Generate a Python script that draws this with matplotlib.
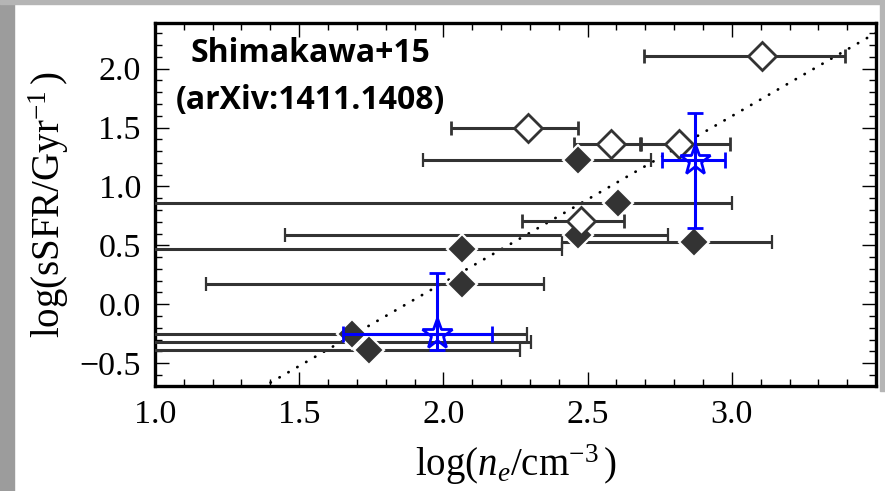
import numpy as np
import matplotlib
matplotlib.use('Agg')
import matplotlib.pyplot as plt
from matplotlib.patches import Rectangle
from matplotlib.ticker import MultipleLocator

plt.rcParams['font.family'] = 'Liberation Serif'
plt.rcParams['mathtext.fontset'] = 'custom'
plt.rcParams['mathtext.rm'] = 'Liberation Serif'
plt.rcParams['mathtext.it'] = 'Liberation Serif:italic'

# open diamonds: log(ne), log(sSFR), x-error low / high ends
open_x = [3.106, 2.295, 2.582, 2.815, 2.478]
open_y = [2.11, 1.50, 1.36, 1.36, 0.71]
open_xlo = [2.697, 2.026, 2.453, 2.68, 2.272]
open_xhi = [3.393, 2.466, 2.685, 2.994, 2.627]

# filled diamonds
fill_x = [2.465, 2.605, 2.466, 2.064, 2.867, 2.064, 1.682, 0.90, 1.743]
fill_y = [1.22, 0.856, 0.587, 0.466, 0.528, 0.175, -0.25, -0.32, -0.385]
fill_xlo = [1.929, 0.0, 1.451, 0.0, 2.41, 1.177, 0.0, 0.0, 0.0]
fill_xhi = [2.719, 3.0, 2.778, 2.41, 3.14, 2.35, 2.289, 2.304, 2.264]

# stacked measurements (blue stars)
star_x = [1.979, 2.873]
star_y = [-0.254, 1.22]
star_xlo = [1.653, 2.757]
star_xhi = [2.170, 2.975]
star_ylo = [-0.39, 0.65]
star_yhi = [0.263, 1.619]

# dotted relation
fit_slope = 1.415
fit_icpt = -2.648

dark = '#333333'
blue = '#0000ff'

fig = plt.figure(figsize=(8.85, 4.91), dpi=100)
ax = fig.add_axes([0.175, 0.2138, 0.815, 0.74])

xs = np.array([1.0, 3.5])
ax.plot(xs, fit_slope * xs + fit_icpt, color='black', lw=2.0,
        dashes=(0.1, 3.6), dash_capstyle='round', zorder=1)

def xerr(x, lo, hi):
    x = np.array(x)
    return [x - np.array(lo), np.array(hi) - x]

ax.errorbar(fill_x, fill_y, xerr=xerr(fill_x, fill_xlo, fill_xhi), fmt='D',
            color=dark, mfc=dark, mec='white', mew=1.6, ms=15, elinewidth=2.2,
            capsize=5, capthick=2.2, zorder=3)
ax.errorbar(open_x, open_y, xerr=xerr(open_x, open_xlo, open_xhi), fmt='D',
            color=dark, mfc='white', mec=dark, mew=2.0, ms=14, elinewidth=2.2,
            capsize=5, capthick=2.2, zorder=3)
sy = np.array(star_y)
ax.errorbar(star_x, star_y, xerr=xerr(star_x, star_xlo, star_xhi),
            yerr=[sy - np.array(star_ylo), np.array(star_yhi) - sy], fmt='*',
            color=blue, mfc='none', mec=blue, mew=2.0, ms=23, elinewidth=2.2,
            capsize=6, capthick=2.2, zorder=4)

ax.set_xlim(1.0, 3.5)
ax.set_ylim(-0.695, 2.39)
ax.set_xticks([1.0, 1.5, 2.0, 2.5, 3.0])
ax.set_yticks([-0.5, 0.0, 0.5, 1.0, 1.5, 2.0])
ax.xaxis.set_minor_locator(MultipleLocator(0.1))
ax.yaxis.set_minor_locator(MultipleLocator(0.1))
ax.tick_params(which='both', direction='in', top=True, right=True, width=1, labelsize=24.5, pad=10)
ax.tick_params(which='major', length=10)
ax.tick_params(which='minor', length=5)
for s in ax.spines.values():
    s.set_linewidth(2.4)

ax.set_xlabel(r'$\mathrm{log}(n_e/\mathrm{cm}^{-3}\,)$', fontsize=28, labelpad=9)
ax.set_ylabel(r'$\mathrm{log}(\mathrm{sSFR}/\mathrm{Gyr}^{-1}\,)$', fontsize=28, labelpad=6)

ax.text(0.215, 0.85, 'Shimakawa+15\n(arXiv:1411.1408)', transform=ax.transAxes,
        ha='center', va='center', fontsize=23, fontweight='bold',
        family=['Open Sans'], linespacing=1.55, zorder=5)

# slide frame around the picture
fig.patches.append(Rectangle((0, 0), 14 / 885, 1, transform=fig.transFigure,
                             color='#9c9c9c', zorder=0))
fig.patches.append(Rectangle((0, 1 - 4 / 491), 1, 4 / 491, transform=fig.transFigure,
                             color='#b5b5b5', zorder=0))
fig.patches.append(Rectangle((880 / 885, 100 / 491), 5 / 885, 1, transform=fig.transFigure,
                             color='#b5b5b5', zorder=0))

fig.savefig('out.png', dpi=100)
